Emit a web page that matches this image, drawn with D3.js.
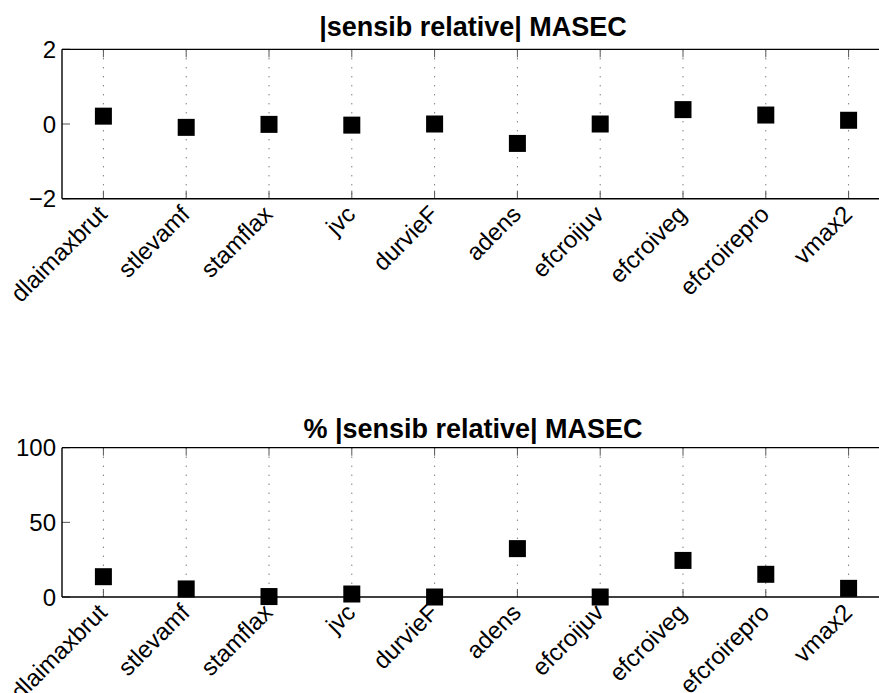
<!DOCTYPE html>
<html>
<head>
<meta charset="utf-8">
<script src="https://cdn.jsdelivr.net/npm/d3@7"></script>
<style>
  html, body { margin: 0; padding: 0; background: #fff; }
  svg { display: block; font-family: "Liberation Sans", Arial, Helvetica, sans-serif; }
</style>
</head>
<body>
<svg id="chart" width="879" height="693"></svg>
<script>
const categories = ["dlaimaxbrut", "stlevamf", "stamflax", "jvc", "durvieF", "adens", "efcroijuv", "efcroiveg", "efcroirepro", "vmax2"];
const sensibValues = [0.21, -0.09, -0.01, -0.03, 0.0, -0.52, 0.0, 0.385, 0.24, 0.1];
const percentValues = [13.6, 5.4, 0.3, 2.0, 0.0, 32.4, 0.0, 24.5, 15.2, 5.8];
const topTicks = [-2, 0, 2];
const bottomTicks = [0, 50, 100];
const topTitle = "|sensib relative| MASEC";
const bottomTitle = "% |sensib relative| MASEC";

const svg = d3.select("#chart");

function drawPanel(cfg) {
  const left = 62, right = 890;
  const x = d3.scaleBand().domain(categories).range([left, right]).paddingInner(0).paddingOuter(0);
  const cx = d => x(d) + x.bandwidth() / 2;
  const y = d3.scaleLinear().domain(cfg.domain).range([cfg.bottom, cfg.top]);
  const g = svg.append("g");

  // dotted vertical grid
  g.selectAll("line.grid").data(categories).enter().append("line")
    .attr("x1", d => cx(d)).attr("x2", d => cx(d))
    .attr("y1", cfg.top).attr("y2", cfg.bottom)
    .attr("stroke", "#444").attr("stroke-width", 1)
    .attr("stroke-dasharray", "1,8");

  // x ticks top and bottom (inward)
  const tl = 8;
  g.selectAll("line.tb").data(categories).enter().append("line")
    .attr("x1", d => cx(d)).attr("x2", d => cx(d))
    .attr("y1", cfg.bottom).attr("y2", cfg.bottom - tl)
    .attr("stroke", "#555").attr("stroke-width", 1);
  g.selectAll("line.tt").data(categories).enter().append("line")
    .attr("x1", d => cx(d)).attr("x2", d => cx(d))
    .attr("y1", cfg.top).attr("y2", cfg.top + tl)
    .attr("stroke", "#555").attr("stroke-width", 1);

  // y ticks (inward)
  g.selectAll("line.yt").data(cfg.ticks).enter().append("line")
    .attr("x1", left).attr("x2", left + tl)
    .attr("y1", d => y(d)).attr("y2", d => y(d))
    .attr("stroke", "#555").attr("stroke-width", 1);

  // y tick labels
  g.selectAll("text.yl").data(cfg.ticks).enter().append("text")
    .attr("x", left - 6).attr("y", d => y(d))
    .attr("dy", "0.36em")
    .attr("text-anchor", "end")
    .attr("font-size", 24)
    .attr("fill", "#000")
    .text(d => d < 0 ? "\u2212" + Math.abs(d) : String(d));

  // axes lines
  g.append("line").attr("x1", left).attr("x2", right).attr("y1", cfg.top).attr("y2", cfg.top)
    .attr("stroke", "#000").attr("stroke-width", 1.2);
  g.append("line").attr("x1", left).attr("x2", right).attr("y1", cfg.bottom).attr("y2", cfg.bottom)
    .attr("stroke", "#000").attr("stroke-width", 1.6);
  g.append("line").attr("x1", left).attr("x2", left).attr("y1", cfg.top).attr("y2", cfg.bottom)
    .attr("stroke", "#000").attr("stroke-width", 1.4);

  // markers
  const s = 17;
  g.selectAll("rect.m").data(cfg.values).enter().append("rect")
    .attr("x", (d, i) => cx(categories[i]) - s / 2)
    .attr("y", d => y(d) - s / 2)
    .attr("width", s).attr("height", s)
    .attr("fill", "#000");

  // x labels rotated
  g.selectAll("text.xl").data(categories).enter().append("text")
    .attr("transform", d => `translate(${cx(d) + 5},${cfg.bottom + 17}) rotate(-45)`)
    .attr("text-anchor", "end")
    .attr("font-size", 24)
    .attr("fill", "#000")
    .text(d => d);

  // title
  g.append("text")
    .attr("x", (left + right) / 2 - 3).attr("y", cfg.titleY)
    .attr("text-anchor", "middle")
    .attr("font-size", 27).attr("font-weight", "bold")
    .attr("fill", "#000")
    .text(cfg.title);
}

drawPanel({ top: 49.3, bottom: 198.7, domain: [-2, 2], ticks: topTicks, values: sensibValues, title: topTitle, titleY: 36 });
drawPanel({ top: 447.7, bottom: 597, domain: [0, 100], ticks: bottomTicks, values: percentValues, title: bottomTitle, titleY: 438 });
</script>
</body>
</html>
